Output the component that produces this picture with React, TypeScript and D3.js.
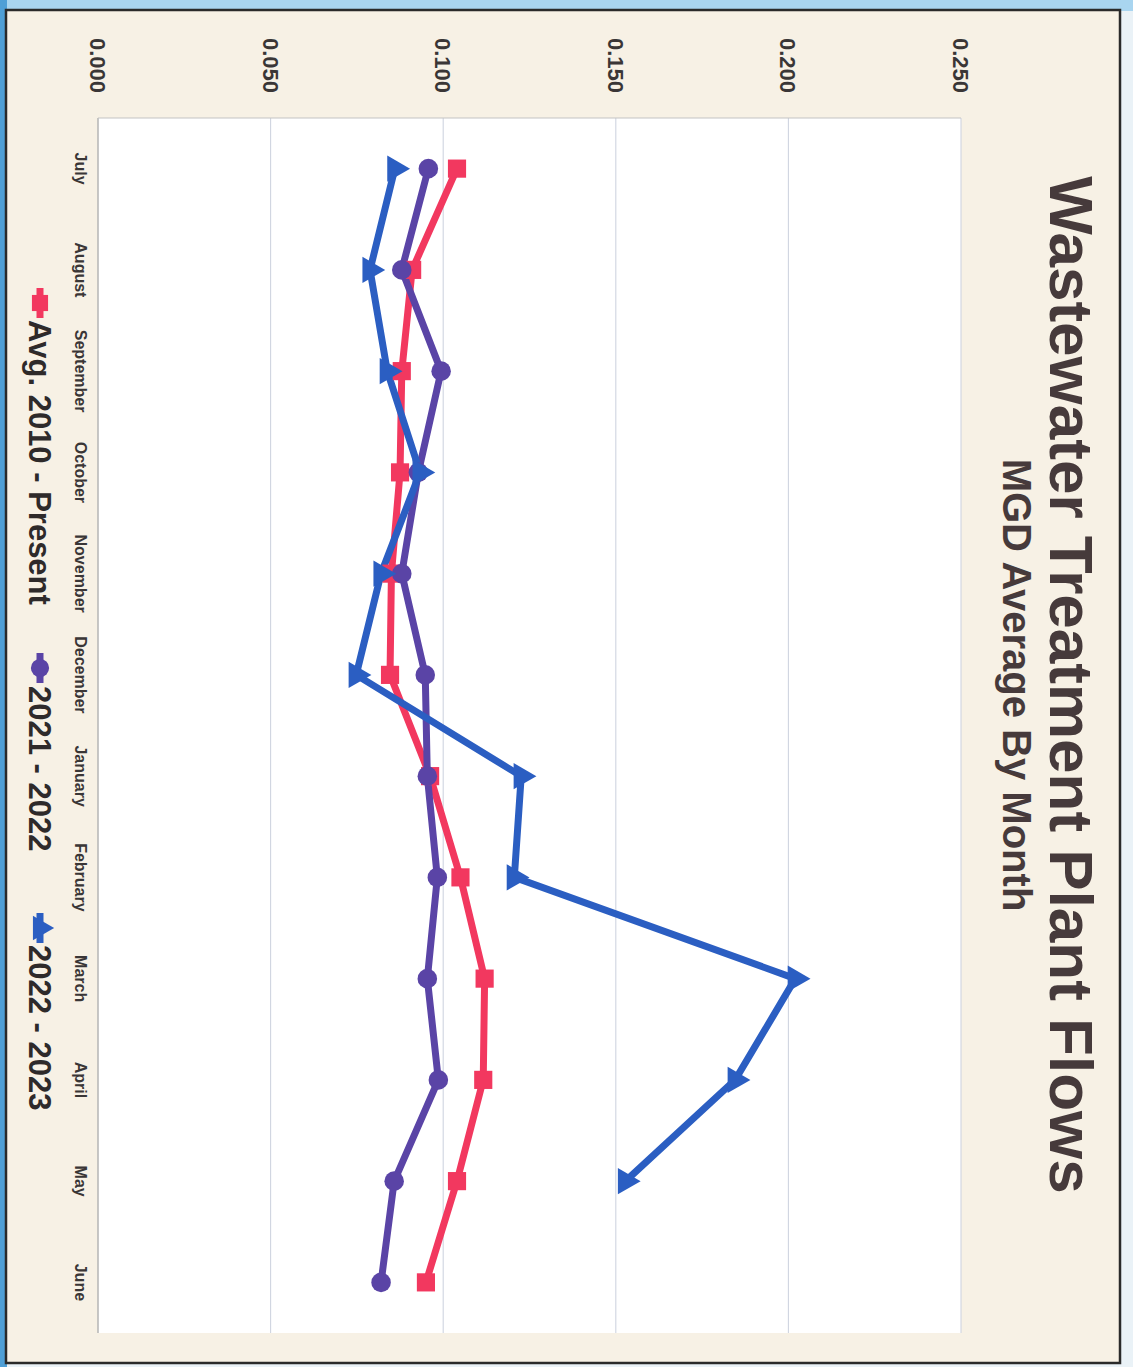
import React from "react";
import * as d3 from "d3";

// Monthly average flows (MGD), fiscal year July → June
const months = [
  "July", "August", "September", "October", "November", "December",
  "January", "February", "March", "April", "May", "June",
];
const avg2010Present = [0.104, 0.091, 0.088, 0.0875, 0.085, 0.0846, 0.0962, 0.105, 0.112, 0.1116, 0.104, 0.095];
const fy2021_2022 = [0.0957, 0.088, 0.0994, 0.0928, 0.088, 0.0948, 0.0954, 0.0983, 0.0954, 0.0986, 0.0858, 0.082];
const fy2022_2023: (number | null)[] = [0.086, 0.0788, 0.0838, 0.0933, 0.082, 0.0748, 0.1226, 0.1206, 0.202, 0.1846, 0.1528, null];
const valueTicks = [0, 0.05, 0.1, 0.15, 0.2, 0.25];

const seriesNames = ["Avg. 2010 - Present", "2021 - 2022", "2022 - 2023"];
const seriesColors = ["#f2385f", "#5a44a6", "#2b5ec2"];

const W = 1133;
const H = 1367;

const font = "'Liberation Sans', Arial, Helvetica, sans-serif";

export default function App() {
  // chart is laid out landscape in the inner frame and turned a quarter turn clockwise
  const plot = { left: 118, right: 1333, top: 172, bottom: 1035 };

  const x = d3.scaleBand<string>().domain(months).range([plot.left, plot.right]).paddingInner(0).paddingOuter(0);
  const cx = (m: string) => (x(m) as number) + x.bandwidth() / 2;
  const y = d3.scaleLinear().domain([0, 0.25]).range([plot.bottom, plot.top]);

  const line = d3
    .line<number | null>()
    .defined((d) => d != null)
    .x((_, i) => cx(months[i]))
    .y((d) => y(d as number));

  const data = [avg2010Present, fy2021_2022, fy2022_2023];

  const symbolTypes = [d3.symbolSquare, d3.symbolCircle, d3.symbolTriangle];
  const symbolSizes = [330, 300, 300];

  const legendItems = [
    { u: 303, tx: 320 },
    { u: 668, tx: 686 },
    { u: 928, tx: 945 },
  ];

  return (
    <svg
      width={W}
      height={H}
      viewBox={`0 0 ${W} ${H}`}
      style={{ position: "absolute", left: 0, top: 0, display: "block" }}
    >
      {/* surroundings of the page */}
      <rect x={0} y={0} width={W} height={H} fill="#eaf2f7" />
      <rect x={0} y={0} width={W} height={11} fill="#a9d5f0" />
      <rect x={0} y={0} width={7} height={H} fill="#4f9fd6" />
      {/* page */}
      <rect x={6} y={10} width={1114} height={1353} fill="#f7f1e5" stroke="#2a2a2a" strokeWidth={2.5} />

      <g transform={`translate(${W},0) rotate(90)`}>
        {/* plot area */}
        <rect x={plot.left} y={plot.top} width={plot.right - plot.left} height={plot.bottom - plot.top} fill="#ffffff" />

        {/* value gridlines */}
        {valueTicks.slice(1).map((t) => (
          <line key={t} x1={plot.left} x2={plot.right} y1={y(t)} y2={y(t)} stroke="#cfd4e0" strokeWidth={1.1} />
        ))}
        {/* axes */}
        <line x1={plot.left} x2={plot.right} y1={plot.bottom} y2={plot.bottom} stroke="#b5b5b5" strokeWidth={1.5} />
        <line x1={plot.left} x2={plot.left} y1={plot.top} y2={plot.bottom} stroke="#c4c4c4" strokeWidth={1.2} />

        {/* value labels */}
        {valueTicks.map((t) => (
          <text
            key={t}
            x={93}
            y={y(t)}
            dy="0.36em"
            textAnchor="end"
            fontFamily={font}
            fontSize={22}
            fontWeight="bold"
            fill="#3a3636"
          >
            {d3.format(".3f")(t)}
          </text>
        ))}

        {/* category labels */}
        {months.map((m) => (
          <text key={m} x={cx(m)} y={1058} textAnchor="middle" fontFamily={font} fontSize={16} fontWeight="bold" fill="#3a3636">
            {m}
          </text>
        ))}

        {/* series lines */}
        {data.map((vals, si) => (
          <path
            key={si}
            d={line(vals) as string}
            fill="none"
            stroke={seriesColors[si]}
            strokeWidth={7}
            strokeLinejoin="miter"
          />
        ))}
        {/* markers */}
        {data.map((vals, si) =>
          vals.map((v, i) =>
            v == null ? null : (
              <path
                key={`${si}-${i}`}
                d={d3.symbol(symbolTypes[si], symbolSizes[si])() as string}
                transform={`translate(${cx(months[i])},${y(v)})`}
                fill={seriesColors[si]}
              />
            )
          )
        )}

        {/* title */}
        <text x={685} y={83} textAnchor="middle" fontFamily={font} fontSize={62} fontWeight="bold" fill="#463a3b">
          Wastewater Treatment Plant Flows
        </text>
        <text x={685} y={130} textAnchor="middle" fontFamily={font} fontSize={40} fontWeight="bold" fill="#463a3b">
          MGD Average By Month
        </text>

        {/* legend */}
        {seriesNames.map((name, si) => (
          <g key={name}>
            <line
              x1={legendItems[si].u - 15}
              x2={legendItems[si].u + 15}
              y1={1093}
              y2={1093}
              stroke={seriesColors[si]}
              strokeWidth={7}
            />
            <path
              d={d3.symbol(symbolTypes[si], 260)() as string}
              transform={`translate(${legendItems[si].u},1093)`}
              fill={seriesColors[si]}
            />
            <text x={legendItems[si].tx} y={1104} fontFamily={font} fontSize={31} fontWeight="bold" fill="#2e2a2a">
              {name}
            </text>
          </g>
        ))}
      </g>
    </svg>
  );
}
